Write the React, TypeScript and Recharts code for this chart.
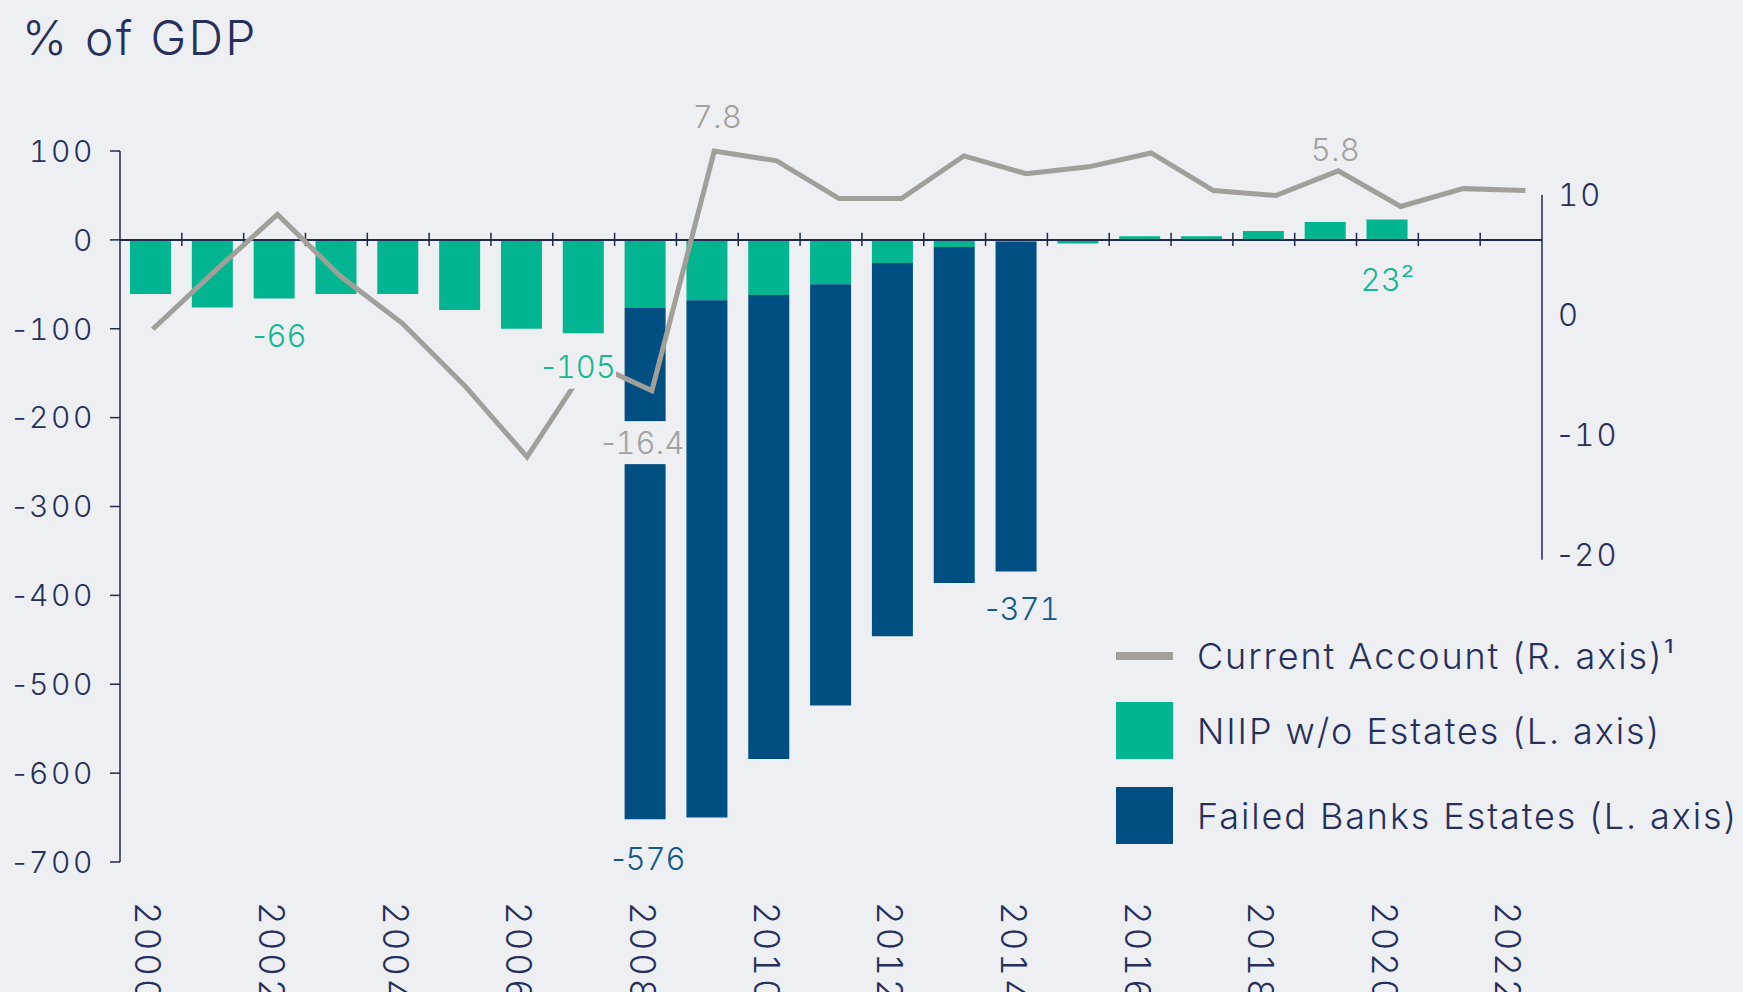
import React from "react";
import {
  ComposedChart,
  Bar,
  Line,
  XAxis,
  YAxis,
  ReferenceLine,
  LabelList,
  Legend,
} from "recharts";

const WIDTH = 1743;
const HEIGHT = 992;
const FONT = "Inter, 'Liberation Sans', Arial, sans-serif";
const BG = "#edeff3";
const INK = "#27305a";
const AXIS = "#1f2a4d";
const TEAL = "#00b58f";
const NAVY = "#004f82";
const GREY = "#a19f99";

// values, % of GDP
const YEARS = [
  2000, 2001, 2002, 2003, 2004, 2005, 2006, 2007, 2008, 2009, 2010, 2011,
  2012, 2013, 2014, 2015, 2016, 2017, 2018, 2019, 2020, 2021, 2022,
];
const NIIP = [
  -61, -76, -66, -61, -61, -79, -100, -105, -76, -68, -62, -50, -26, -8, -2,
  -4, 4, 4, 10, 20, 23, null, null,
];
const ESTATES = [
  null, null, null, null, null, null, null, null, -576, -582, -522, -474,
  -420, -378, -371, null, null, null, null, null, null, null, null,
];
const CURRENT_ACCOUNT = [
  -10.2, -4.3, 1.4, -4.8, -9.6, -15.9, -23.1, -13.5, -16.4, 7.8, 6.8, 3.0,
  3.0, 7.3, 5.5, 6.2, 7.6, 3.8, 3.3, 5.8, 2.2, 4.0, 3.8,
];

const LEFT_TICKS = [100, 0, -100, -200, -300, -400, -500, -600, -700];
const RIGHT_TICKS = [10, 0, -10, -20];

const NIIP_NOTES: Record<number, string> = { 2002: "-66", 2007: "-105", 2020: "23²" };
const ESTATE_NOTES: Record<number, string> = { 2008: "-576", 2014: "-371" };
const CA_NOTES: Record<number, string> = { 2008: "-16.4", 2009: "7.8", 2019: "5.8" };

// label offset from its anchor point (px) and whether it masks what is under it
const SHIFT: Record<string, [number, number]> = {
  "niip-2002": [5, 37],
  "niip-2007": [-5, 34],
  "niip-2020": [0, 40],
  "est-2008": [3, 39],
  "est-2014": [6, 37],
  "ca-2008": [-9, 52],
  "ca-2009": [3, -34],
  "ca-2019": [-3, -21],
};
const BOXED = new Set(["niip-2007", "ca-2008"]);

const rows = YEARS.map((year, i) => ({
  year,
  niip: NIIP[i],
  estates: ESTATES[i],
  ca: CURRENT_ACCOUNT[i],
}));

const LEGEND_ORDER = ["ca", "niip", "estates"];
const TNUM = { fontFeatureSettings: '"tnum"' };

// digits tabular (wide "1"), signs and dots proportional
function Num({ s }: { s: string }) {
  return (
    <>
      {s
        .split(/(\d+)/)
        .filter(Boolean)
        .map((part, i) =>
          /\d/.test(part) ? (
            <tspan key={i} style={TNUM}>
              {part}
            </tspan>
          ) : (
            <tspan key={i}>{part}</tspan>
          )
        )}
    </>
  );
}

function textWidth(s: string, size: number) {
  let w = 0;
  for (const ch of s) {
    if (ch === "-") w += 0.42;
    else if (ch === ".") w += 0.29;
    else w += 0.62;
  }
  return w * size;
}

function makeNote(series: string, notes: Record<number, string>, color: string) {
  return function Note(props: any) {
    const { index } = props;
    const yr = YEARS[index];
    const text = notes[yr];
    const px = props.x ?? props.viewBox?.x;
    const py = props.y ?? props.viewBox?.y;
    if (!text || px == null || py == null) return null;
    const key = `${series}-${yr}`;
    const [dx, dy] = SHIFT[key] ?? [0, 0];
    const cx = px + dx;
    const cy = py + dy;
    const w = textWidth(text, 31) + 4;
    return (
      <g>
        {BOXED.has(key) && (
          <rect x={cx - w / 2} y={cy - 21.5} width={w} height={43} fill={BG} />
        )}
        <text
          x={cx}
          y={cy}
          dy="0.36em"
          textAnchor="middle"
          fill={color}
          fontSize={31}
          fontFamily={FONT}
          fontWeight={300}
        >
          <Num s={text} />
        </text>
      </g>
    );
  };
}

const NiipNote = makeNote("niip", NIIP_NOTES, "#14b892");
const EstateNote = makeNote("est", ESTATE_NOTES, "#15588a");
const CaNote = makeNote("ca", CA_NOTES, "#a3a19c");

function ValueTick({ x, y, payload, textAnchor, size, spacing }: any) {
  return (
    <text
      x={x}
      y={y}
      dy="0.36em"
      textAnchor={textAnchor}
      fill={INK}
      fontSize={size}
      fontFamily={FONT}
      fontWeight={300}
      letterSpacing={spacing}
    >
      <Num s={String(payload.value)} />
    </text>
  );
}

function YearTick({ x, y, payload }: any) {
  return (
    <text
      transform={`translate(${x - 3},${y}) rotate(90)`}
      dy="0.36em"
      textAnchor="start"
      fill={INK}
      fontSize={35}
      fontFamily={FONT}
      fontWeight={300}
      letterSpacing={3}
    >
      <Num s={String(payload.value)} />
    </text>
  );
}

function LegendBox({ payload }: any) {
  const items = LEGEND_ORDER.map((k) =>
    (payload || []).find((p: any) => p.dataKey === k)
  ).filter(Boolean);
  const gaps = [18, 28, 0];
  return (
    <div style={{ fontFamily: FONT }}>
      {items.map((it: any, i: number) => (
        <div
          key={it.dataKey}
          style={{
            display: "flex",
            alignItems: "center",
            height: 57,
            marginBottom: gaps[i],
          }}
        >
          <div style={{ width: 57, height: 57, display: "flex", alignItems: "center" }}>
            <div
              style={{
                width: 57,
                height: it.type === "line" ? 8 : 57,
                background: it.color,
              }}
            />
          </div>
          <span
            style={{
              marginLeft: 24,
              fontSize: 36,
              lineHeight: 1,
              fontWeight: 300,
              letterSpacing: 1.9,
              color: INK,
              whiteSpace: "nowrap",
            }}
          >
            {it.value}
          </span>
        </div>
      ))}
    </div>
  );
}

export default function App() {
  return (
    <div
      style={{
        position: "absolute",
        left: 0,
        top: 0,
        width: WIDTH,
        height: HEIGHT,
        background: BG,
        overflow: "hidden",
        fontFamily: FONT,
      }}
    >
      <div
        style={{
          position: "absolute",
          left: 22,
          top: 14,
          fontSize: 48,
          lineHeight: 1,
          fontWeight: 300,
          letterSpacing: 2.3,
          color: INK,
          whiteSpace: "nowrap",
        }}
      >
        % of GDP
      </div>
      <div style={{ position: "absolute", left: 0, top: 0 }}>
        <ComposedChart
          width={WIDTH}
          height={HEIGHT}
          data={rows}
          stackOffset="sign"
          margin={{ top: 151, right: 101, left: 20, bottom: 70 }}
        >
          <XAxis
            xAxisId="cat"
            dataKey="year"
            type="category"
            interval={1}
            axisLine={false}
            tickLine={false}
            tickSize={0}
            tickMargin={40}
            height={60}
            tick={<YearTick />}
          />
          <XAxis
            xAxisId="ca"
            dataKey="year"
            type="number"
            domain={[1999.476, 2022.265]}
            allowDataOverflow
            height={0}
            hide
          />
          <XAxis
            xAxisId="grid"
            dataKey="year"
            type="number"
            domain={[1999.5, 2022.5]}
            allowDataOverflow
            height={0}
            hide
          />
          <YAxis
            yAxisId="left"
            type="number"
            domain={[-700, 100]}
            ticks={LEFT_TICKS}
            interval={0}
            width={100}
            tickSize={10}
            tickMargin={15}
            axisLine={{ stroke: AXIS, strokeWidth: 1.5 }}
            tickLine={{ stroke: AXIS, strokeWidth: 1.5 }}
            tick={<ValueTick size={30} spacing={2.6} />}
          />
          <YAxis
            yAxisId="right"
            orientation="right"
            type="number"
            domain={[-45.583, 13.667]}
            allowDataOverflow
            ticks={RIGHT_TICKS}
            interval={0}
            width={100}
            tickSize={0}
            tickMargin={16}
            axisLine={false}
            tickLine={false}
            tick={<ValueTick size={31} spacing={2.2} />}
          />
          <YAxis yAxisId="ca" type="number" domain={[-64, 7.8]} width={0} hide />

          <Bar
            xAxisId="cat"
            yAxisId="left"
            dataKey="niip"
            name="NIIP w/o Estates (L. axis)"
            stackId="a"
            fill={TEAL}
            barSize={41}
            legendType="square"
            isAnimationActive={false}
          />
          <Bar
            xAxisId="cat"
            yAxisId="left"
            dataKey="estates"
            name="Failed Banks Estates (L. axis)"
            stackId="a"
            fill={NAVY}
            barSize={41}
            legendType="square"
            isAnimationActive={false}
          />

          <ReferenceLine
            xAxisId="cat"
            yAxisId="left"
            y={0}
            stroke={AXIS}
            strokeWidth={2}
          />
          {YEARS.slice(0, -1).map((yr) => (
            <ReferenceLine
              key={yr}
              xAxisId="grid"
              yAxisId="left"
              segment={[
                { x: yr + 0.5, y: 8 },
                { x: yr + 0.5, y: -7 },
              ]}
              stroke={AXIS}
              strokeWidth={1.5}
              ifOverflow="visible"
            />
          ))}
          <ReferenceLine
            xAxisId="grid"
            yAxisId="right"
            segment={[
              { x: 2022.5, y: 10 },
              { x: 2022.5, y: -20.4 },
            ]}
            stroke={AXIS}
            strokeWidth={1.5}
            ifOverflow="visible"
          />

          <Line
            xAxisId="ca"
            yAxisId="ca"
            dataKey="ca"
            name="Current Account (R. axis)¹"
            type="linear"
            stroke={GREY}
            strokeWidth={5}
            dot={false}
            activeDot={false}
            legendType="line"
            isAnimationActive={false}
          >
            <LabelList dataKey="ca" content={<CaNote />} />
          </Line>

          {/* invisible carriers for the bar annotations, drawn above the line */}
          <Line
            xAxisId="grid"
            yAxisId="left"
            dataKey={(d: any) => (d.niip == null ? null : Math.min(d.niip, 0))}
            stroke="none"
            dot={false}
            activeDot={false}
            legendType="none"
            isAnimationActive={false}
          >
            <LabelList content={<NiipNote />} />
          </Line>
          <Line
            xAxisId="grid"
            yAxisId="left"
            dataKey={(d: any) =>
              d.estates == null ? null : (d.niip ?? 0) + d.estates
            }
            stroke="none"
            dot={false}
            activeDot={false}
            legendType="none"
            isAnimationActive={false}
          >
            <LabelList content={<EstateNote />} />
          </Line>

          <Legend
            layout="vertical"
            align="center"
            verticalAlign="middle"
            wrapperStyle={{ position: "absolute", left: 1116, top: 627, width: 627 }}
            content={<LegendBox />}
          />
        </ComposedChart>
      </div>
    </div>
  );
}
